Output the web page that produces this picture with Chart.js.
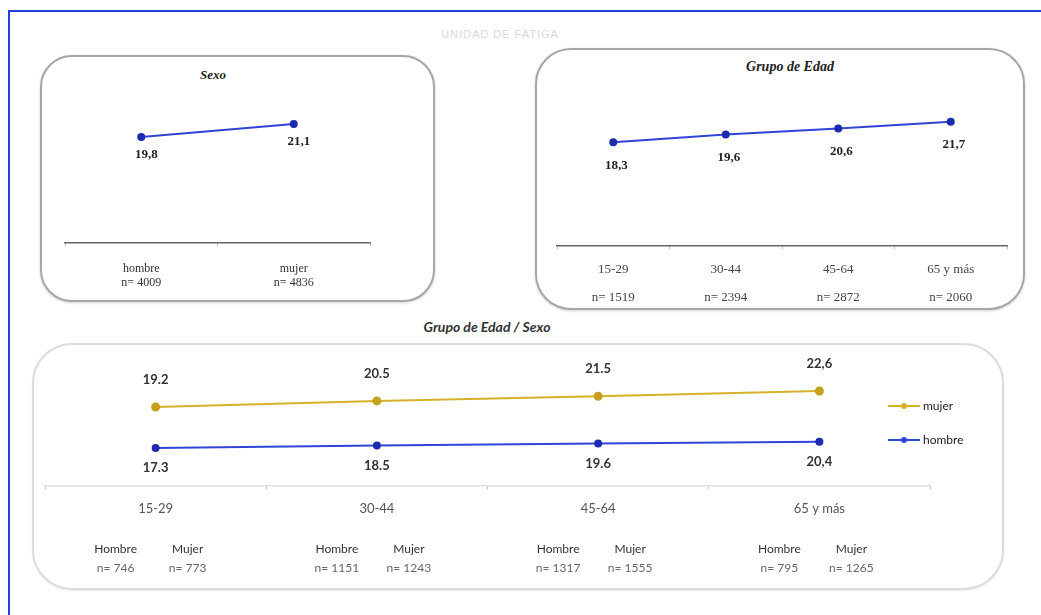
<!DOCTYPE html>
<html>
<head>
<meta charset="utf-8">
<script src="https://cdn.jsdelivr.net/npm/chart.js@4.4.0/dist/chart.umd.min.js"></script>
<style>
  body { margin:0; background:#fff; width:1041px; height:615px; overflow:hidden; position:relative; font-family:'Liberation Serif', serif; }
  .frame { position:absolute; left:8px; top:10px; width:1100px; height:700px; border-top:2px solid #1f3fe0; border-left:2px solid #1f3fe0; }
  .box { position:absolute; border:2px solid #a6a6a6; box-shadow:0 1px 3px rgba(0,0,0,.18); background:#fff; }
  .ttl { position:absolute; font-weight:bold; font-style:italic; color:#222; white-space:nowrap; transform:translateX(-50%); }
  canvas { position:absolute; }
  .faint { position:absolute; left:500px; top:28px; transform:translateX(-50%); color:#d8d8d8; font:11px 'Liberation Sans', sans-serif; letter-spacing:1px; }
  .leg { position:absolute; left:888px; font:12px Lato, sans-serif; color:#222; display:flex; align-items:center; }
  .leg i { display:inline-block; position:relative; width:32px; height:2px; margin-right:3px; }
  .leg i::after { content:''; position:absolute; left:13px; top:-2px; width:6px; height:6px; border-radius:50%; background:inherit; }
</style>
</head>
<body>
<div class="frame"></div>
<div class="faint">UNIDAD DE FATIGA</div>

<div class="box" style="left:40px;top:55px;width:391px;height:243px;border-radius:32px;"></div>
<div class="box" style="left:535px;top:48px;width:486px;height:258px;border-radius:36px;"></div>
<div class="box" style="left:32px;top:343px;width:968px;height:243px;border-radius:40px;border-color:#dcdcdc;box-shadow:0 1px 2px rgba(0,0,0,.08);"></div>

<div class="ttl" style="left:213px;top:67px;font-size:13px;">Sexo</div>
<div class="ttl" style="left:790px;top:59px;font-size:14px;">Grupo de Edad</div>
<div class="ttl" style="left:487px;top:318px;font-size:14px;font-family:Lato, sans-serif;color:#333;">Grupo de Edad / Sexo</div>

<canvas id="sexoChart" width="395" height="247" style="left:40px;top:55px;"></canvas>
<canvas id="edadChart" width="490" height="262" style="left:535px;top:48px;"></canvas>
<canvas id="cruceChart" width="972" height="247" style="left:32px;top:343px;"></canvas>

<div class="leg" style="top:398px;"><i style="background:#d6b22a"></i>mujer</div>
<div class="leg" style="top:432px;"><i style="background:#2f45d8"></i>hombre</div>

<script>
'use strict';

// Sexo
const sexoCats = ['hombre', 'mujer'];
const sexoN = ['n= 4009', 'n= 4836'];
const sexoVals = [19.8, 21.1];
const sexoLabels = ['19,8', '21,1'];

// Grupo de edad
const edadCats = ['15-29', '30-44', '45-64', '65 y más'];
const edadN = ['n= 1519', 'n= 2394', 'n= 2872', 'n= 2060'];
const edadVals = [18.3, 19.6, 20.6, 21.7];
const edadLabels = ['18,3', '19,6', '20,6', '21,7'];

// Grupo de edad / sexo
const mujerVals = [19.2, 20.5, 21.5, 22.6];
const hombreVals = [17.3, 18.5, 19.6, 20.4];
const mujerLabels = ['19.2', '20.5', '21.5', '22,6'];
const hombreLabels = ['17.3', '18.5', '19.6', '20,4'];
const hombreN = ['n= 746', 'n= 1151', 'n= 1317', 'n= 795'];
const mujerN = ['n= 773', 'n= 1243', 'n= 1555', 'n= 1265'];

const BLUE = '#2f45d8';
const BLUE_PT = '#1c2bb0';
const GOLD = '#d6b22a';
const GOLD_PT = '#c4a01c';

const $ = id => document.getElementById(id);

/* value labels next to each point */
const valueLabels = {
  id: 'valueLabels',
  afterDatasetsDraw(chart, args, opts) {
    const ctx = chart.ctx;
    ctx.save();
    ctx.textAlign = 'center';
    ctx.textBaseline = 'middle';
    chart.data.datasets.forEach((ds, di) => {
      const meta = chart.getDatasetMeta(di);
      ctx.font = opts.font;
      ctx.fillStyle = opts.color;
      meta.data.forEach((pt, i) => {
        ctx.fillText(opts.texts[di][i], pt.x + (opts.dx || 0), pt.y + opts.dy[di]);
      });
    });
    ctx.restore();
  }
};

/* Hombre / Mujer counts under each age group */
const groupCounts = {
  id: 'groupCounts',
  afterDraw(chart, args, opts) {
    if (!opts.rows) return;
    const ctx = chart.ctx;
    const xs = chart.scales.x;
    const base = chart.chartArea.bottom;
    ctx.save();
    ctx.textAlign = 'center';
    ctx.textBaseline = 'middle';
    xs.ticks.forEach((t, i) => {
      const cx = xs.getPixelForTick(i);
      ctx.font = '12px Lato, sans-serif';
      ctx.fillStyle = '#333';
      ctx.fillText('Hombre', cx - 40, base + 63);
      ctx.fillText('Mujer', cx + 32, base + 63);
      ctx.fillStyle = '#666';
      ctx.fillText(hombreN[i], cx - 40, base + 82);
      ctx.fillText(mujerN[i], cx + 32, base + 82);
    });
    ctx.restore();
  }
};

Chart.register(valueLabels, groupCounts);

function xAxis(height, font, color, pad) {
  return {
    offset: true,
    afterFit: s => { s.height = height; },
    border: { display: true, color: '#666', width: 1.5 },
    grid: { drawOnChartArea: false, drawTicks: true, tickLength: 3, color: '#bbb', offset: true },
    ticks: { color: color, font: font, padding: pad, maxRotation: 0, autoSkip: false }
  };
}

function blueLine(data) {
  return {
    data: data,
    borderColor: BLUE,
    borderWidth: 2,
    pointRadius: 3,
    pointBackgroundColor: BLUE_PT,
    pointBorderColor: BLUE_PT,
    tension: 0
  };
}

const baseOpts = {
  responsive: false,
  animation: false,
  events: []
};

new Chart($('sexoChart'), {
  type: 'line',
  data: {
    labels: sexoCats.map((c, i) => [c, sexoN[i]]),
    datasets: [blueLine(sexoVals)]
  },
  options: {
    ...baseOpts,
    layout: { padding: { left: 25, right: 65, top: 40, bottom: 0 } },
    scales: {
      x: xAxis(59, { family: "'Liberation Serif', serif", size: 12, lineHeight: 1.15 }, '#333', 16),
      y: { display: false, min: 9.2, max: 24.0 }
    },
    plugins: {
      legend: { display: false },
      tooltip: { enabled: false },
      valueLabels: { texts: [sexoLabels], dy: [18], dx: 5, font: "bold 13px 'Liberation Serif', serif", color: '#222' },
      groupCounts: {}
    }
  }
});

new Chart($('edadChart'), {
  type: 'line',
  data: {
    labels: edadCats.map((c, i) => [c, edadN[i]]),
    datasets: [blueLine(edadVals)]
  },
  options: {
    ...baseOpts,
    layout: { padding: { left: 22, right: 18, top: 60, bottom: 0 } },
    scales: {
      x: xAxis(64, { family: "'Liberation Serif', serif", size: 13, lineHeight: 2.2 }, '#444', 6),
      y: { display: false, min: 1, max: 24 }
    },
    plugins: {
      legend: { display: false },
      tooltip: { enabled: false },
      valueLabels: { texts: [edadLabels], dy: [23], dx: 3, font: "bold 13px 'Liberation Serif', serif", color: '#222' },
      groupCounts: {}
    }
  }
});

new Chart($('cruceChart'), {
  type: 'line',
  data: {
    labels: edadCats,
    datasets: [
      {
        label: 'mujer',
        data: mujerVals,
        yAxisID: 'yM',
        borderColor: GOLD,
        borderWidth: 2,
        pointRadius: 3.5,
        pointBackgroundColor: GOLD_PT,
        pointBorderColor: GOLD_PT,
        tension: 0
      },
      {
        label: 'hombre',
        data: hombreVals,
        yAxisID: 'yH',
        ...blueLine(hombreVals)
      }
    ]
  },
  options: {
    ...baseOpts,
    layout: { padding: { left: 13, right: 74, top: 40, bottom: 0 } },
    scales: {
      x: {
        ...xAxis(104, { family: 'Lato, sans-serif', size: 13 }, '#555', 12),
        border: { display: true, color: '#ddd', width: 1.5 }
      },
      yM: { display: false, min: 2.4, max: 24.31 },
      yH: { display: false, min: -1.7, max: 49.8 }
    },
    plugins: {
      legend: { display: false },
      tooltip: { enabled: false },
      valueLabels: { texts: [mujerLabels, hombreLabels], dy: [-27, 20], dx: 0, font: 'bold 13px Lato, sans-serif', color: '#333' },
      groupCounts: { rows: true }
    }
  }
});
</script>
</body>
</html>
